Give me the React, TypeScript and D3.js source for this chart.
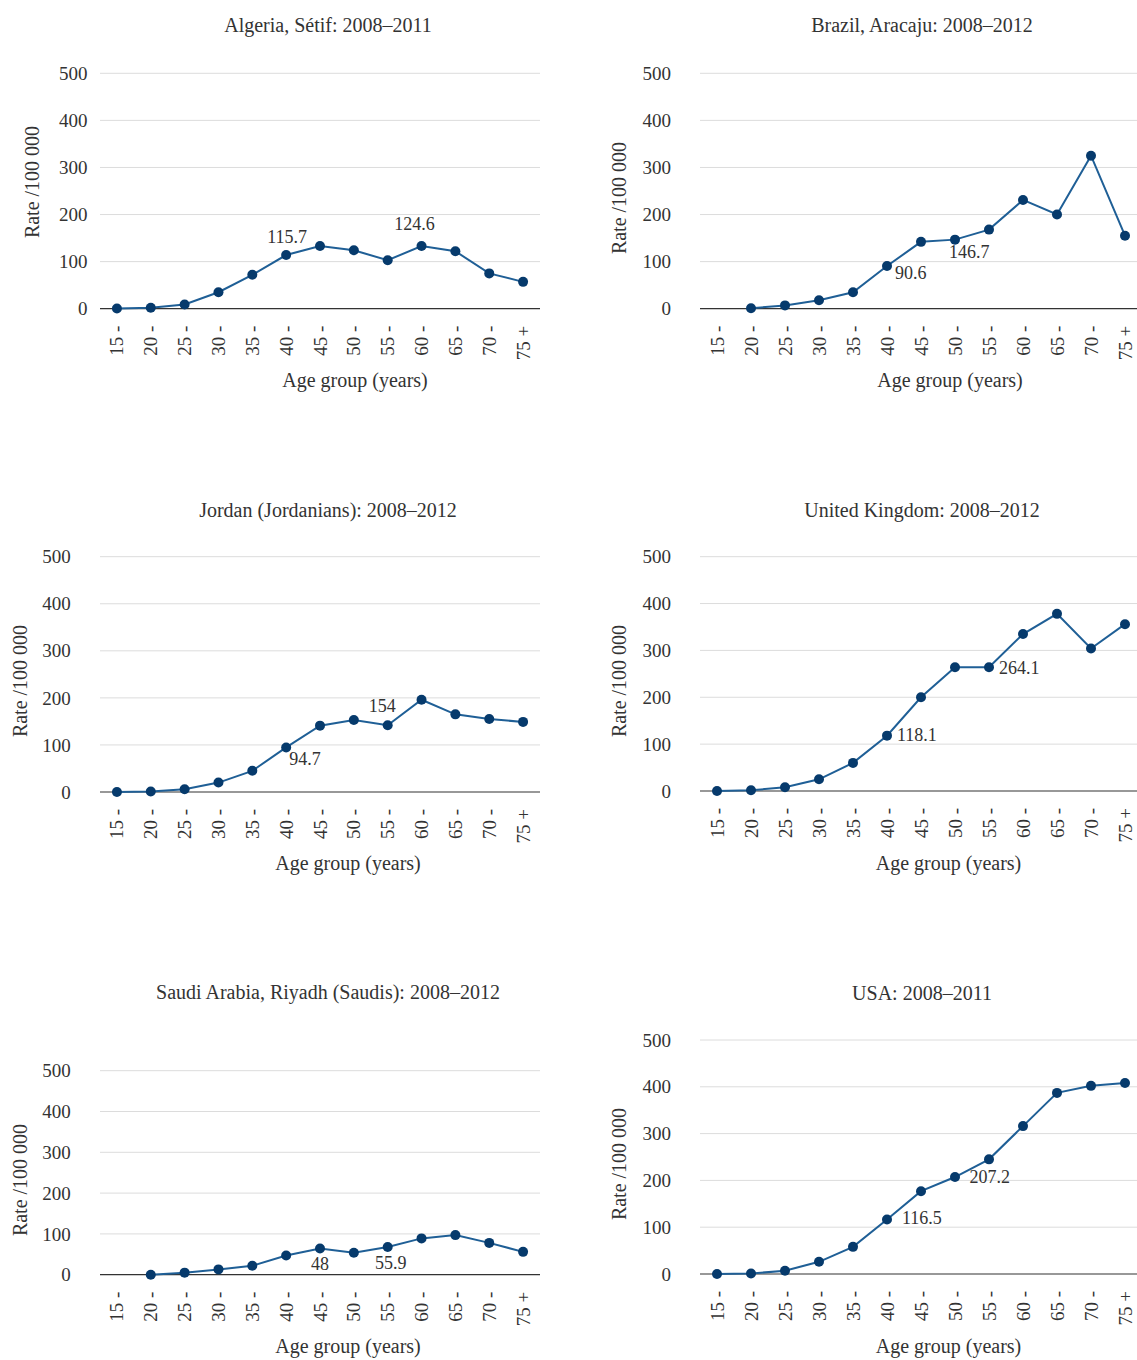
import React from "react";
import * as d3 from "d3";

const ageGroups = ["15 -", "20 -", "25 -", "30 -", "35 -", "40 -", "45 -", "50 -", "55 -", "60 -", "65 -", "70 -", "75 +"];
const yTicks = [0, 100, 200, 300, 400, 500];

const algeriaRates = [0.5, 2, 9, 35, 72, 114, 133, 124, 103, 133, 122, 75, 57];
const brazilRates = [null, 1, 7, 18, 35, 90.6, 142, 146.7, 168, 231, 200, 325, 155];
const jordanRates = [0, 1, 6, 20, 45, 94.7, 141, 153, 142, 196, 165, 155, 149];
const ukRates = [0, 1.5, 8, 25, 60, 118.1, 200, 264, 264.1, 335, 378, 304, 356];
const saudiRates = [null, 0, 5, 13, 22, 47, 64, 54, 68, 89, 97, 78, 56];
const usaRates = [0, 1, 7, 26, 58, 116.5, 177, 207.2, 245, 316, 387, 402, 408];

const titles = [
  "Algeria, Sétif: 2008–2011",
  "Brazil, Aracaju: 2008–2012",
  "Jordan (Jordanians): 2008–2012",
  "United Kingdom: 2008–2012",
  "Saudi Arabia, Riyadh (Saudis): 2008–2012",
  "USA: 2008–2011",
];

const algeriaLabels = [{ text: "115.7", index: 5 }, { text: "124.6", index: 9 }];
const brazilLabels = [{ text: "90.6", index: 5 }, { text: "146.7", index: 7 }];
const jordanLabels = [{ text: "94.7", index: 5 }, { text: "154", index: 8 }];
const ukLabels = [{ text: "118.1", index: 5 }, { text: "264.1", index: 8 }];
const saudiLabels = [{ text: "48", index: 6 }, { text: "55.9", index: 8 }];
const usaLabels = [{ text: "116.5", index: 5 }, { text: "207.2", index: 7 }];

const yLabel = "Rate /100 000";
const xLabel = "Age group (years)";

const FONT = "'Liberation Serif', 'DejaVu Serif', serif";
const TEXT = "#333";
const LINE = "#1f5f96";
const DOT = "#063a6c";

type Offset = { dx: number; dy: number; anchor: "start" | "middle" | "end" };

type Layout = {
  x0: number; x1: number; yTop: number; yBottom: number;
  titleX: number; titleY: number; yLabX: number; yLabY: number;
  tickRight: number; xTitleX: number; xTitleY: number;
  offsets: Offset[];
};

const panels = [
  { title: titles[0], values: algeriaRates, labels: algeriaLabels },
  { title: titles[1], values: brazilRates, labels: brazilLabels },
  { title: titles[2], values: jordanRates, labels: jordanLabels },
  { title: titles[3], values: ukRates, labels: ukLabels },
  { title: titles[4], values: saudiRates, labels: saudiLabels },
  { title: titles[5], values: usaRates, labels: usaLabels },
];

const layouts: Layout[] = [
  { x0: 100, x1: 540, yTop: 73.3, yBottom: 308.7, titleX: 328, titleY: 31.5, yLabX: 31.6, yLabY: 182, tickRight: 87.5, xTitleX: 355, xTitleY: 386.5,
    offsets: [{ dx: 1, dy: -12, anchor: "middle" }, { dx: -7, dy: -16, anchor: "middle" }] },
  { x0: 700, x1: 1142, yTop: 73.3, yBottom: 308.7, titleX: 922, titleY: 31.5, yLabX: 619, yLabY: 198, tickRight: 671, xTitleX: 950, xTitleY: 386.5,
    offsets: [{ dx: 8, dy: 13, anchor: "start" }, { dx: -6, dy: 18, anchor: "start" }] },
  { x0: 100, x1: 540, yTop: 556.7, yBottom: 792, titleX: 328, titleY: 516.5, yLabX: 19.6, yLabY: 681, tickRight: 70.7, xTitleX: 348, xTitleY: 870,
    offsets: [{ dx: 3, dy: 18, anchor: "start" }, { dx: 8, dy: -13, anchor: "end" }] },
  { x0: 700, x1: 1142, yTop: 556.7, yBottom: 791, titleX: 922, titleY: 516.5, yLabX: 619, yLabY: 681, tickRight: 671, xTitleX: 948.5, xTitleY: 870,
    offsets: [{ dx: 10, dy: 5, anchor: "start" }, { dx: 10, dy: 7, anchor: "start" }] },
  { x0: 100, x1: 540, yTop: 1070.7, yBottom: 1274.7, titleX: 328, titleY: 998.5, yLabX: 19.6, yLabY: 1180, tickRight: 70.7, xTitleX: 348, xTitleY: 1353,
    offsets: [{ dx: 0, dy: 21, anchor: "middle" }, { dx: 3, dy: 22, anchor: "middle" }] },
  { x0: 700, x1: 1142, yTop: 1040, yBottom: 1274, titleX: 922, titleY: 999.5, yLabX: 619, yLabY: 1164, tickRight: 671, xTitleX: 948.5, xTitleY: 1353,
    offsets: [{ dx: 15, dy: 5, anchor: "start" }, { dx: 14.5, dy: 6, anchor: "start" }] },
];

function Panel({ title, values, labels, layout }: { title: string; values: (number | null)[]; labels: { text: string; index: number }[]; layout: Layout }) {
  const x = d3.scaleBand<string>().domain(ageGroups).range([layout.x0, layout.x1]).padding(0);
  const y = d3.scaleLinear().domain([0, 500]).range([layout.yBottom, layout.yTop]);
  const cx = (i: number) => (x(ageGroups[i]) as number) + x.bandwidth() / 2;
  const data = values.map((v, i) => ({ v, i }));
  const line = d3
    .line<{ v: number | null; i: number }>()
    .defined((d) => d.v !== null)
    .x((d) => cx(d.i))
    .y((d) => y(d.v as number));
  return (
    <g>
      <text x={layout.titleX} y={layout.titleY} textAnchor="middle" fontSize={20} fill={TEXT} fontFamily={FONT}>{title}</text>
      {yTicks.map((t) => (
        <g key={t}>
          <line x1={layout.x0} x2={layout.x1} y1={y(t)} y2={y(t)} stroke={t === 0 ? "#333" : "#dcdcdc"} strokeWidth={t === 0 ? 1.2 : 1} />
          <text x={layout.tickRight} y={y(t)} dy="0.35em" textAnchor="end" fontSize={19} fill={TEXT} fontFamily={FONT}>{t}</text>
        </g>
      ))}
      {ageGroups.map((g, i) => (
        <text key={g} transform={`translate(${cx(i)},${layout.yBottom + 17}) rotate(-90)`} textAnchor="end" dominantBaseline="central" fontSize={19} fill={TEXT} fontFamily={FONT}>{g}</text>
      ))}
      <text transform={`translate(${layout.yLabX},${layout.yLabY}) rotate(-90)`} textAnchor="middle" dominantBaseline="central" fontSize={20} fill={TEXT} fontFamily={FONT}>{yLabel}</text>
      <text x={layout.xTitleX} y={layout.xTitleY} textAnchor="middle" fontSize={20} fill={TEXT} fontFamily={FONT}>{xLabel}</text>
      <path d={line(data) || ""} fill="none" stroke={LINE} strokeWidth={2} />
      {data.filter((d) => d.v !== null).map((d) => (
        <circle key={d.i} cx={cx(d.i)} cy={y(d.v as number)} r={5} fill={DOT} />
      ))}
      {labels.map((l, k) => {
        const o = layout.offsets[k];
        return (
          <text key={l.text} x={cx(l.index) + o.dx} y={y(values[l.index] as number) + o.dy} textAnchor={o.anchor} fontSize={18} fill={TEXT} fontFamily={FONT}>{l.text}</text>
        );
      })}
    </g>
  );
}

export default function App() {
  return (
    <svg width={1137} height={1360} style={{ position: "absolute", left: 0, top: 0, background: "#fff" }}>
      <rect x={0} y={0} width={1137} height={1360} fill="#fff" />
      {panels.map((p, i) => (
        <Panel key={i} title={p.title} values={p.values} labels={p.labels} layout={layouts[i]} />
      ))}
    </svg>
  );
}
